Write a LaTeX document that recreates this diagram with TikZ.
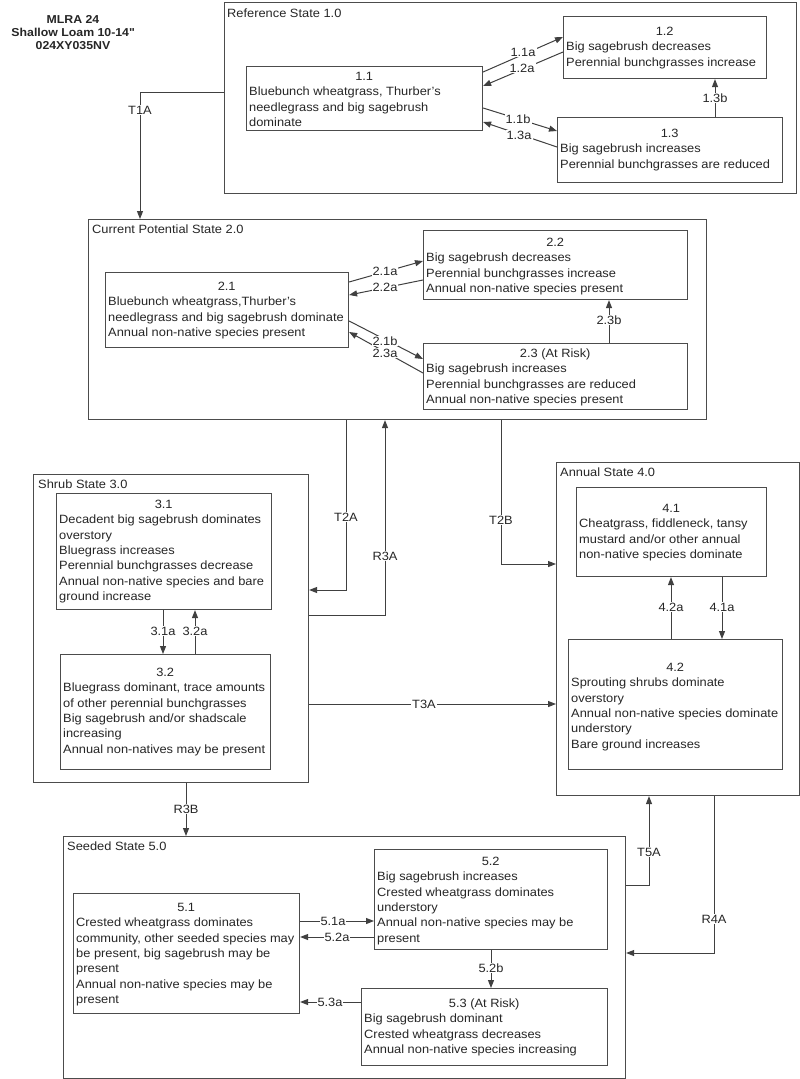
\documentclass[tikz,border=0pt]{standalone}
\usepackage{fontspec}
\setmainfont[FakeStretch=1.07]{Liberation Sans}
\usetikzlibrary{arrows.meta,calc}
\newcommand\sbx[5]{\node[sbox, minimum width={#4-#2}, minimum height={#5-#3}] (#1) at (#2,#3) {};}
\newcommand\hd[2]{\makebox[#1pt][c]{#2\strut}}
\newcommand\strq{\XeTeXglyph\XeTeXcharglyph34\relax}
\tikzset{
 sbox/.style={draw=black!70, line width=1.1pt, rectangle, inner sep=0pt, anchor=north west},
 txt/.style={inner sep=0pt, anchor=north west, align=left, font=\fontsize{12}{15.35}\selectfont, text=black!85},
 stlabel/.style={inner sep=0pt, anchor=west, font=\fontsize{12}{15.35}\selectfont, text=black!85},
 lbl/.style={fill=white, inner sep=1pt, font=\fontsize{12}{14}\selectfont, text=black!85},
 arr/.style={draw=black!75, line width=1pt, -{Triangle[length=8pt,width=6pt]}},
}
\begin{document}
\begin{tikzpicture}[x=1pt,y=-1pt]
\useasboundingbox (0,0) rectangle (800,1079);
\fill[white] (0,0) rectangle (800,1079);
% title
\node[font=\bfseries\fontsize{11.5}{13}\selectfont, align=center, inner sep=0pt, text=black!85] (title) at (73,32.5) {MLRA 24\\Shallow Loam 10-14\strq\\024XY035NV};
% outer states
\sbx{ref}{224}{2}{796}{193}
\sbx{cp}{88}{219}{706}{419}
\sbx{shrub}{33}{474}{308}{782}
\sbx{annual}{556}{462}{799}{795}
\sbx{seeded}{63}{836}{625}{1078}
\node[stlabel] (lref) at (227,13) {Reference State 1.0};
\node[stlabel] (lcp) at (92,229) {Current Potential State 2.0};
\node[stlabel] (lshrub) at (38,484) {Shrub State 3.0};
\node[stlabel] (lannual) at (560,472) {Annual State 4.0};
\node[stlabel] (lseeded) at (67,846) {Seeded State 5.0};
% community boxes
\sbx{b11}{246}{66}{482}{130}
\sbx{b12}{563}{16}{766}{78}
\sbx{b13}{557}{117}{782}{182}
\sbx{b21}{105}{272}{348}{347}
\sbx{b22}{423}{230}{687}{299}
\sbx{b23}{423}{343}{687}{409}
\sbx{b31}{56}{493}{271}{609}
\sbx{b32}{60}{654}{270}{769}
\sbx{b41}{576}{487}{766}{576}
\sbx{b42}{568}{639}{782}{769}
\sbx{b51}{73}{893}{299}{1013}
\sbx{b52}{374}{849}{607}{949}
\sbx{b53}{361}{988}{607}{1065}
% texts
\node[txt] (t11) at (249,69.5) {\hd{230}{1.1}\\Bluebunch wheatgrass, Thurber's\\needlegrass and big sagebrush\\dominate};
\node[txt] (t12) at (566,24.5) {\hd{197}{1.2}\\Big sagebrush decreases\\Perennial bunchgrasses increase};
\node[txt] (t13) at (560,126.5) {\hd{219}{1.3}\\Big sagebrush increases\\Perennial bunchgrasses are reduced};
\node[txt] (t21) at (108,279.5) {\hd{237}{2.1}\\Bluebunch wheatgrass,Thurber's\\needlegrass and big sagebrush dominate\\Annual non-native species present};
\node[txt] (t22) at (426,235.5) {\hd{258}{2.2}\\Big sagebrush decreases\\Perennial bunchgrasses increase\\Annual non-native species present};
\node[txt] (t23) at (426,346.5) {\hd{258}{2.3 (At Risk)}\\Big sagebrush increases\\Perennial bunchgrasses are reduced\\Annual non-native species present};
\node[txt] (t31) at (59,497.5) {\hd{209}{3.1}\\Decadent big sagebrush dominates\\overstory\\Bluegrass increases\\Perennial bunchgrasses decrease\\Annual non-native species and bare\\ground increase};
\node[txt] (t32) at (63,665.5) {\hd{204}{3.2}\\Bluegrass dominant, trace amounts\\of other perennial bunchgrasses\\Big sagebrush and/or shadscale\\increasing\\Annual non-natives may be present};
\node[txt] (t41) at (579,501.5) {\hd{184}{4.1}\\Cheatgrass, fiddleneck, tansy\\mustard and/or other annual\\non-native species dominate};
\node[txt] (t42) at (571,660.5) {\hd{208}{4.2}\\Sprouting shrubs dominate\\overstory\\Annual non-native species dominate\\understory\\Bare ground increases};
\node[txt] (t51) at (76,900.5) {\hd{220}{5.1}\\Crested wheatgrass dominates\\community, other seeded species may\\be present, big sagebrush may be\\present\\Annual non-native species may be\\present};
\node[txt] (t52) at (377,854.5) {\hd{227}{5.2}\\Big sagebrush increases\\Crested wheatgrass dominates\\understory\\Annual non-native species may be\\present};
\node[txt] (t53) at (364,996.5) {\hd{240}{5.3 (At Risk)}\\Big sagebrush dominant\\Crested wheatgrass decreases\\Annual non-native species increasing};
% coordinates for connectors
\coordinate (t1a) at (140,92);
\coordinate (c13b) at (715,98);
\coordinate (c23b) at (609,320);
\coordinate (t2a) at (346,590);
\coordinate (r3a) at (385,615);
\coordinate (t2b) at (501,564);
\coordinate (t3a) at (424,704);
\coordinate (r3b) at (186,809);
\coordinate (t5a) at (649,885);
\coordinate (r4a) at (714,953);
\coordinate (c31a) at (163,631);
\coordinate (c32a) at (195,631);
\coordinate (c42a) at (671,607);
\coordinate (c41a) at (722,607);
\coordinate (c51a) at (333,921);
\coordinate (c52a) at (337,937);
\coordinate (c53a) at (330,1002);
\coordinate (c52b) at (491,968);
% state-to-state transitions
\draw[arr] (ref.west |- t1a) -| (cp.north -| t1a);
\draw[arr] (cp.south -| t2a) -- (t2a) -- (shrub.east |- t2a);
\draw[arr] (shrub.east |- r3a) -- (r3a) -- (cp.south -| r3a);
\draw[arr] (cp.south -| t2b) -- (t2b) -- (annual.west |- t2b);
\draw[arr] (shrub.east |- t3a) -- (annual.west |- t3a);
\draw[arr] (shrub.south -| r3b) -- (seeded.north -| r3b);
\draw[arr] (seeded.east |- t5a) -- (t5a) -- (annual.south -| t5a);
\draw[arr] (annual.south -| r4a) -- (r4a) -- (seeded.east |- r4a);
% reference state pathways
\draw[arr] ($(b11.north east)+(0,6)$) -- ($(b12.north west)+(0,21)$);
\draw[arr] ($(b12.north west)+(0,36)$) -- ($(b11.north east)+(0,20)$);
\draw[arr] ($(b11.north east)+(0,42)$) -- ($(b13.north west)+(0,14)$);
\draw[arr] ($(b13.north west)+(0,30)$) -- ($(b11.north east)+(0,56)$);
\draw[arr] (b13.north -| c13b) -- (b12.south -| c13b);
% current potential pathways
\draw[arr] ($(b21.north east)+(0,10)$) -- ($(b22.north west)+(0,31)$);
\draw[arr] ($(b22.north west)+(0,50)$) -- ($(b21.north east)+(0,23)$);
\draw[arr] ($(b21.north east)+(0,49)$) -- ($(b23.north west)+(0,16)$);
\draw[arr] ($(b23.north west)+(0,30)$) -- ($(b21.north east)+(0,60)$);
\draw[arr] (b23.north -| c23b) -- (b22.south -| c23b);
% shrub, annual, seeded pathways
\draw[arr] (b31.south -| c31a) -- (b32.north -| c31a);
\draw[arr] (b32.north -| c32a) -- (b31.south -| c32a);
\draw[arr] (b42.north -| c42a) -- (b41.south -| c42a);
\draw[arr] (b41.south -| c41a) -- (b42.north -| c41a);
\draw[arr] (b51.east |- c51a) -- (b52.west |- c51a);
\draw[arr] (b52.west |- c52a) -- (b51.east |- c52a);
\draw[arr] (b53.west |- c53a) -- (b51.east |- c53a);
\draw[arr] (b52.south -| c52b) -- (b53.north -| c52b);
% labels
\node[lbl] (lT1A) at (140,110) {T1A};
\node[lbl] (lT2A) at (346,517) {T2A};
\node[lbl] (lR3A) at (385,556) {R3A};
\node[lbl] (lT2B) at (501,520) {T2B};
\node[lbl] (lT3A) at (t3a) {T3A};
\node[lbl] (lR3B) at (r3b) {R3B};
\node[lbl] (lT5A) at (649,852) {T5A};
\node[lbl] (lR4A) at (714,919) {R4A};
\node[lbl] (l11a) at (523,52) {1.1a};
\node[lbl] (l12a) at (522,68) {1.2a};
\node[lbl] (l11b) at (518,119) {1.1b};
\node[lbl] (l13a) at (519,135) {1.3a};
\node[lbl] (l13b) at (c13b) {1.3b};
\node[lbl] (l21a) at (385,271) {2.1a};
\node[lbl] (l22a) at (385,287) {2.2a};
\node[lbl] (l21b) at (385,341) {2.1b};
\node[lbl] (l23a) at (385,353) {2.3a};
\node[lbl] (l23b) at (c23b) {2.3b};
\node[lbl] (l31a) at (c31a) {3.1a};
\node[lbl] (l32a) at (c32a) {3.2a};
\node[lbl] (l42a) at (c42a) {4.2a};
\node[lbl] (l41a) at (c41a) {4.1a};
\node[lbl] (l51a) at (c51a) {5.1a};
\node[lbl] (l52a) at (c52a) {5.2a};
\node[lbl] (l53a) at (c53a) {5.3a};
\node[lbl] (l52b) at (c52b) {5.2b};
\end{tikzpicture}
\end{document}
